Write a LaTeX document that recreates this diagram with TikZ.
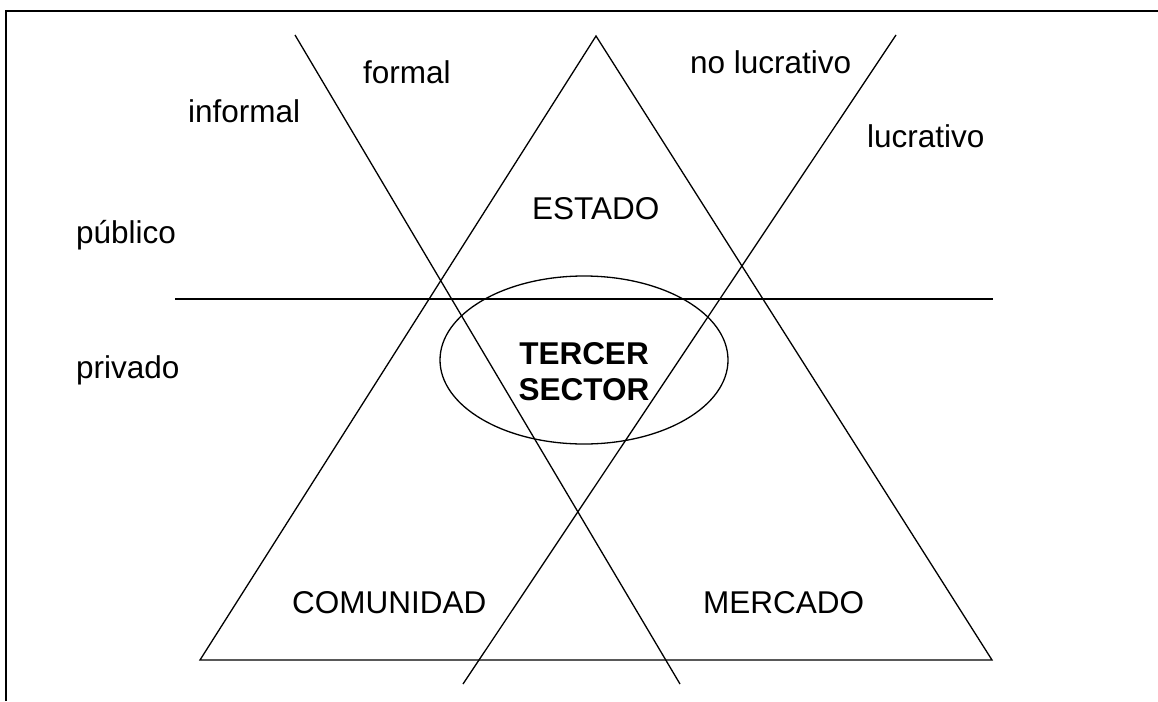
\documentclass[tikz,border=0pt]{standalone}
\usepackage{fontspec}
\setmainfont{Liberation Sans}
\usetikzlibrary{shapes.geometric}
\begin{document}
\begin{tikzpicture}[x=1pt,y=-1pt,
  lbl/.style={anchor=base west,inner sep=0pt,font=\fontsize{31.5}{36}\selectfont},
  ln/.style={line width=1.3pt,black},
  frame/.style={line width=2pt,black}]
\useasboundingbox (0,0) rectangle (1158,701);
% frame (only top and left edges visible)
\coordinate (f1) at (6,701);
\coordinate (f2) at (6,11);
\coordinate (f3) at (1160,11);
\draw[frame] (f1) -- (f2) -- (f3);
% triangle
\coordinate (apex) at (596,36);
\coordinate (bl) at (200,660);
\coordinate (br) at (992,660);
\draw[ln,line join=miter] (apex) -- (br) -- (bl) -- cycle;
% horizontal divider
\coordinate (h1) at (175,299);
\coordinate (h2) at (993,299);
\draw[ln] (h1) -- (h2);
% crossing lines
\coordinate (a1) at (295,35);
\coordinate (a2) at (680,684);
\coordinate (b1) at (896,35);
\coordinate (b2) at (463,684);
\draw[ln] (a1) -- (a2);
\draw[ln] (b1) -- (b2);
% ellipse
\node[ellipse,draw,ln,minimum width=288pt,minimum height=168pt,inner sep=0pt] (tercer) at (584,360) {};
\node[align=center,inner sep=0pt,font=\fontsize{31.5}{36}\selectfont\bfseries,anchor=base] (ts) at (584,400) {TERCER\\SECTOR};
% labels
\node[lbl] (formal) at (363,83) {formal};
\node[lbl] (informal) at (188,122) {informal};
\node[lbl] (nolucr) at (690,74) {no lucrativo};
\node[lbl] (lucr) at (867,147) {lucrativo};
\node[lbl] (estado) at (532,219) {ESTADO};
\node[lbl] (publico) at (76,243) {público};
\node[lbl] (privado) at (76,378) {privado};
\node[lbl] (comunidad) at (292,613) {COMUNIDAD};
\node[lbl] (mercado) at (703,613) {MERCADO};
\end{tikzpicture}
\end{document}
